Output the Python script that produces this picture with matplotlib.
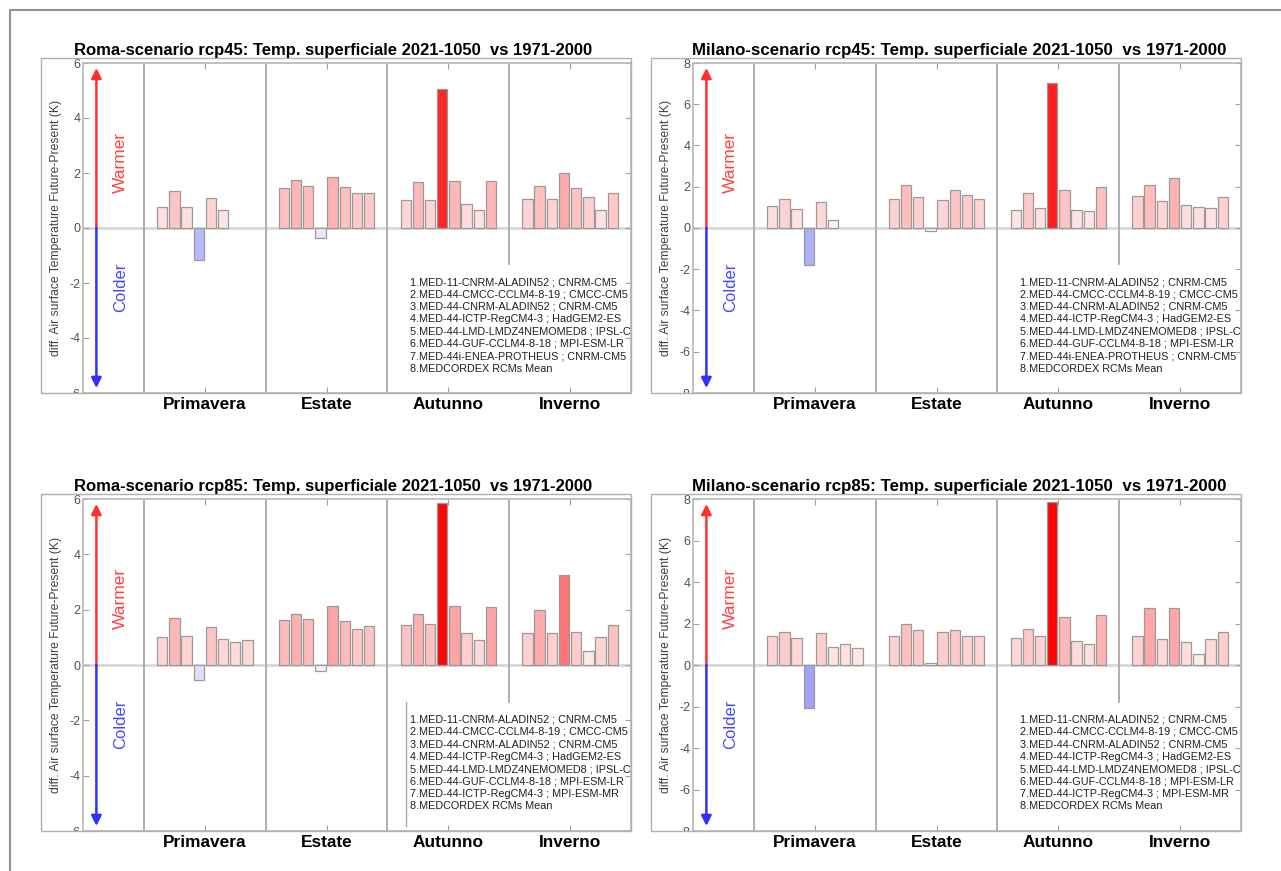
import numpy as np
import matplotlib
matplotlib.use('Agg')
import matplotlib.pyplot as plt
from matplotlib import font_manager
from matplotlib.colors import LinearSegmentedColormap
from matplotlib.patches import Rectangle
from matplotlib.lines import Line2D
from matplotlib.transforms import Bbox, TransformedBbox

nan = np.nan

seasons = ['Primavera', 'Estate', 'Autunno', 'Inverno']

# values per season, 8 models each
roma45_primavera = [0.77, 1.36, 0.77, -1.16, 1.08, 0.67, nan, nan]
roma45_estate = [1.46, 1.73, 1.52, -0.37, 1.85, 1.50, 1.27, 1.28]
roma45_autunno = [1.01, 1.67, 1.01, 5.07, 1.70, 0.86, 0.67, 1.70]
roma45_inverno = [1.05, 1.51, 1.05, 2.00, 1.44, 1.11, 0.67, 1.27]

milano45_primavera = [1.05, 1.43, 0.93, -1.79, 1.27, 0.39, nan, nan]
milano45_estate = [1.41, 2.08, 1.51, -0.15, 1.36, 1.85, 1.62, 1.40]
milano45_autunno = [0.89, 1.69, 0.96, 7.05, 1.82, 0.89, 0.83, 2.01]
milano45_inverno = [1.53, 2.08, 1.30, 2.42, 1.12, 1.02, 0.96, 1.48]

roma85_primavera = [1.03, 1.69, 1.06, -0.53, 1.39, 0.95, 0.83, 0.92]
roma85_estate = [1.61, 1.85, 1.67, -0.23, 2.13, 1.60, 1.31, 1.42]
roma85_autunno = [1.44, 1.86, 1.49, 5.85, 2.13, 1.16, 0.90, 2.11]
roma85_inverno = [1.14, 2.00, 1.14, 3.26, 1.20, 0.51, 1.00, 1.45]

milano85_primavera = [1.38, 1.61, 1.29, -2.07, 1.53, 0.85, 1.01, 0.81]
milano85_estate = [1.42, 2.00, 1.69, 0.08, 1.61, 1.71, 1.38, 1.42]
milano85_autunno = [1.32, 1.74, 1.38, 7.85, 2.30, 1.17, 0.99, 2.39]
milano85_inverno = [1.38, 2.75, 1.24, 2.77, 1.09, 0.54, 1.24, 1.58]

models_rcp45 = [
    '1.MED-11-CNRM-ALADIN52 ; CNRM-CM5',
    '2.MED-44-CMCC-CCLM4-8-19 ; CMCC-CM5',
    '3.MED-44-CNRM-ALADIN52 ; CNRM-CM5',
    '4.MED-44-ICTP-RegCM4-3 ; HadGEM2-ES',
    '5.MED-44-LMD-LMDZ4NEMOMED8 ; IPSL-CM5A-MR',
    '6.MED-44-GUF-CCLM4-8-18 ; MPI-ESM-LR',
    '7.MED-44i-ENEA-PROTHEUS ; CNRM-CM5',
    '8.MEDCORDEX RCMs Mean',
]
models_rcp85 = models_rcp45[:6] + ['7.MED-44-ICTP-RegCM4-3 ; MPI-ESM-MR', '8.MEDCORDEX RCMs Mean']

ylabel = 'diff. Air surface Temperature Future-Present (K)'
title_fmt = '{}-scenario rcp{}: Temp. superficiale 2021-1050  vs 1971-2000'

W, H = 1281, 871
fig = plt.figure(figsize=(W / 100, H / 100), dpi=100)
fig.patch.set_facecolor('white')

warm = LinearSegmentedColormap.from_list('warm', ['#ffffff', '#ff0000'])
cold = LinearSegmentedColormap.from_list('cold', ['#ffffff', '#1010f0'])

installed = {f.name for f in font_manager.fontManager.ttflist}
if 'Liberation Sans Narrow' in installed:
    heavy = 'Liberation Sans Narrow'
else:
    heavy = 'Liberation Sans'
text_font = ['Liberation Sans', 'DejaVu Sans']

renderer = fig.canvas.get_renderer()


def fit_width(t, target):
    # scale the font so that the text spans the same width as in the picture
    w = t.get_window_extent(renderer).width
    t.set_fontsize(t.get_fontsize() * target / w)


def px_box(left, top, right, bottom):
    return [left / W, 1 - bottom / H, (right - left) / W, (bottom - top) / H]


def draw_panel(left, right, top, bottom, outer_left, title_x, title_w, title, data, ymax, models,
               legend_line=False):
    ax = fig.add_axes(px_box(left, top, right, bottom))
    # outer panel frame
    fig.add_artist(Rectangle((outer_left / W, 1 - bottom / H), (right - outer_left) / W,
                             (bottom - top + 5) / H, transform=fig.transFigure,
                             fill=False, edgecolor='#b0b0b0', lw=1))
    t = fig.text(title_x / W, 1 - (top - 8) / H, title, family=heavy,
                 fontweight='bold', fontsize=12.5, va='baseline', ha='left', color='black')
    fit_width(t, title_w)

    ax.set_xlim(0, 4.5)
    ax.set_ylim(-ymax, ymax)
    ax.axhline(0, color='#d8d8d8', lw=2, zorder=1)
    for xs in [0.5, 1.5, 2.5]:
        ax.axvline(xs, color='#a8a8a8', lw=1.3, zorder=1)
    ax.axvline(3.5, ymin=0.39, color='#a8a8a8', lw=1.3, zorder=1)

    offsets = (np.arange(8) - 3.5) * 0.1
    for k, vals in enumerate(data):
        for i, v in enumerate(vals):
            if np.isnan(v):
                continue
            if v >= 0:
                c = warm(min(v / ymax, 1.0))
            else:
                c = cold(min(-v * 1.5 / ymax, 1.0))
            ax.bar(k + 1 + offsets[i], v, width=0.085, color=c, edgecolor='#9a9a9a', lw=0.9, zorder=3)

    # warmer / colder arrows
    tr = ax.get_xaxis_transform()
    ax.annotate('', xy=(0.11, 0.985), xytext=(0.11, 0.5), xycoords=tr, textcoords=tr,
                arrowprops=dict(arrowstyle='-|>', color='#ff3030', lw=1.8, mutation_scale=15,
                                shrinkA=0, shrinkB=0))
    ax.annotate('', xy=(0.11, 0.015), xytext=(0.11, 0.5), xycoords=tr, textcoords=tr,
                arrowprops=dict(arrowstyle='-|>', color='#3030ff', lw=1.8, mutation_scale=15,
                                shrinkA=0, shrinkB=0))
    ax.text(0.31, 0.70, 'Warmer', transform=tr, rotation=90, ha='center', va='center',
            color='#ff4040', fontsize=12.5, family=text_font)
    ax.text(0.31, 0.32, 'Colder', transform=tr, rotation=90, ha='center', va='center',
            color='#4848ff', fontsize=12, family=text_font)

    # model list
    for i, m in enumerate(models):
        ax.text(0.597, 0.336 - i * 0.0374, m, transform=ax.transAxes, fontsize=7.8,
                family=text_font, color='#202020', va='center', ha='left', clip_on=True,
                zorder=5)
    if legend_line:
        ax.plot([2.655, 2.655], [-ymax * 0.225, -ymax * 0.97], color='#a8a8a8', lw=1, zorder=2)

    ax.set_xticks([1, 2, 3, 4])
    ax.set_xticklabels(seasons, family=heavy, fontweight='bold', fontsize=12)
    fit_width(ax.get_xticklabels()[0], 83)
    fs = ax.get_xticklabels()[0].get_fontsize()
    for lab in ax.get_xticklabels():
        lab.set_fontsize(fs)
    ax.set_yticks(np.arange(-ymax, ymax + 1, 2))
    ax.set_yticklabels([str(int(v)) for v in np.arange(-ymax, ymax + 1, 2)], color='#505050',
                       fontsize=9, family=text_font)
    ax.tick_params(direction='in', top=True, right=True, length=4, color='#a0a0a0', pad=2)
    ax.tick_params(axis='x', pad=3)
    for s in ax.spines.values():
        s.set_color('#b8b8b8')
        s.set_linewidth(1.2)
    ax.set_ylabel(ylabel, fontsize=8.7, color='#404040', family=text_font, labelpad=5)
    # bottom tick label is cut by the frame
    clip = TransformedBbox(Bbox.from_extents(-0.3, 0.0, 1.0, 1.1), ax.transAxes)
    for lab in ax.get_yticklabels():
        lab.set_clip_box(clip)
        lab.set_clip_on(True)
    return ax


draw_panel(83, 631, 63, 393, 41, 74, 523, title_fmt.format('Roma', 45),
           [roma45_primavera, roma45_estate, roma45_autunno, roma45_inverno], 6, models_rcp45)
draw_panel(693, 1241, 63, 393, 651, 692, 535, title_fmt.format('Milano', 45),
           [milano45_primavera, milano45_estate, milano45_autunno, milano45_inverno], 8, models_rcp45)
draw_panel(83, 631, 499, 831, 41, 74, 523, title_fmt.format('Roma', 85),
           [roma85_primavera, roma85_estate, roma85_autunno, roma85_inverno], 6, models_rcp85,
           legend_line=True)
draw_panel(693, 1241, 499, 831, 651, 692, 535, title_fmt.format('Milano', 85),
           [milano85_primavera, milano85_estate, milano85_autunno, milano85_inverno], 8, models_rcp85)

# page border
fig.add_artist(Line2D([10 / W, 10 / W, 1.0], [0.0, 1 - 10 / H, 1 - 10 / H],
                      transform=fig.transFigure, color='#909090', lw=1.5))

fig.savefig('out.png', dpi=100)
